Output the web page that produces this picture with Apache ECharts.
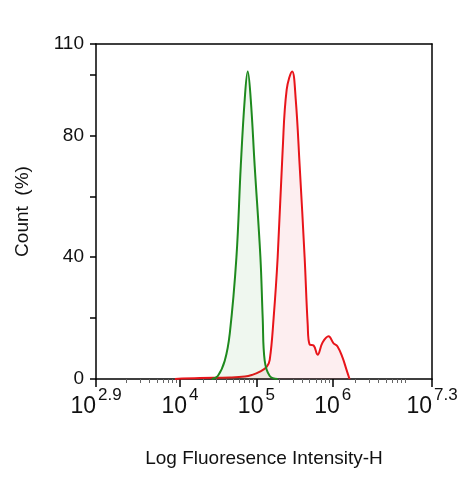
<!DOCTYPE html>
<html><head><meta charset="utf-8">
<script src="https://cdn.jsdelivr.net/npm/echarts@6/dist/echarts.min.js"></script>
<style>html,body{margin:0;padding:0;background:#fff}#c{width:476px;height:479px}</style>
</head><body><div id="c"></div>
<script>
// x values are log10(intensity)
const greenX = [4.416,4.495,4.586,4.652,4.739,4.796,4.848,4.887,4.926,4.978,5.053,5.083,5.109,5.175,5.279];
const greenY = [0,1,6,15,40,70,92,101,92,70,40,20,6,1,0];
const redX = [3.933,4.26,4.65,4.85,4.94,5.04,5.135,5.175,5.226,5.279,5.344,5.397,5.469,5.515,5.567,5.632,5.672,5.698,5.75,5.802,5.867,5.946,6.011,6.063,6.129,6.181,6.22];
const redY = [0,0.3,0.5,0.8,1.3,2.3,4,6.3,20,40,75,95,101,92,70,40,18,11.3,11,8,12,14,11.7,10.7,7,3,0];
const xMajor = [2.9,4,5,6,7.3];
const yLabels = [0,40,80,110];
const yMinor = [0,20,40,60,80,100,110];
const xMinor = [];
for (let d=3; d<=6; d++) for (let k=2;k<=9;k++) xMinor.push(d+Math.log10(k));

const chart = echarts.init(document.getElementById('c'));
const lineC = '#000';
chart.setOption({
  animation:false,
  grid:{left:96,right:44,top:44,bottom:100},
  xAxis:[
    {type:'value',min:2.9,max:7.3,position:'bottom',
     axisLine:{lineStyle:{color:lineC,width:1.5}},
     axisTick:{customValues:xMajor,length:8,lineStyle:{color:lineC,width:1.5}},
     axisLabel:{customValues:xMajor,margin:8,formatter:v=>'{b|10}{s|'+(Math.round(v*10)/10)+'}',
       rich:{b:{fontSize:23,fontFamily:'Liberation Sans',color:'#111',verticalAlign:'bottom',lineHeight:28},
             s:{fontSize:17,fontFamily:'Liberation Sans',color:'#111',verticalAlign:'top',padding:[0,0,14,2]}}},
     splitLine:{show:false},
     name:'Log Fluoresence Intensity-H',nameLocation:'middle',nameGap:70,
     nameTextStyle:{fontSize:19,fontFamily:'Liberation Sans',color:'#111'}},
    {type:'value',min:2.9,max:7.3,position:'bottom',gridIndex:0,
     axisLine:{show:false},axisLabel:{show:false},splitLine:{show:false},
     axisTick:{customValues:xMinor,length:4,lineStyle:{color:'#666',width:1}}},
    {type:'value',min:2.9,max:7.3,position:'top',
     axisLine:{lineStyle:{color:lineC,width:1.5}},axisTick:{show:false},axisLabel:{show:false},splitLine:{show:false}}
  ],
  yAxis:[
    {type:'value',min:0,max:110,
     axisLine:{show:true,lineStyle:{color:lineC,width:1.5}},
     axisTick:{show:true,customValues:yMinor,length:6,lineStyle:{color:lineC,width:1.5}},
     axisLabel:{customValues:yLabels,fontSize:19,fontFamily:'Liberation Sans',color:'#111',margin:12},
     splitLine:{show:false},
     name:'Count  (%)',nameLocation:'middle',nameGap:64,
     nameTextStyle:{fontSize:19,fontFamily:'Liberation Sans',color:'#111'}},
    {type:'value',min:0,max:110,position:'right',
     axisLine:{show:true,lineStyle:{color:lineC,width:1.5}},axisTick:{show:false},axisLabel:{show:false},splitLine:{show:false}}
  ],
  series:[
    {type:'line',smooth:0.4,symbol:'none',data:greenX.map((x,i)=>[x,greenY[i]]),
     lineStyle:{color:'#1e8a1e',width:2},areaStyle:{color:'rgba(30,138,30,0.1)'},z:3},
    {type:'line',smooth:0.4,symbol:'none',data:redX.map((x,i)=>[x,redY[i]]),
     lineStyle:{color:'#e8141a',width:2},areaStyle:{color:'rgba(232,20,40,0.1)'},z:2}
  ]
});
</script></body></html>
